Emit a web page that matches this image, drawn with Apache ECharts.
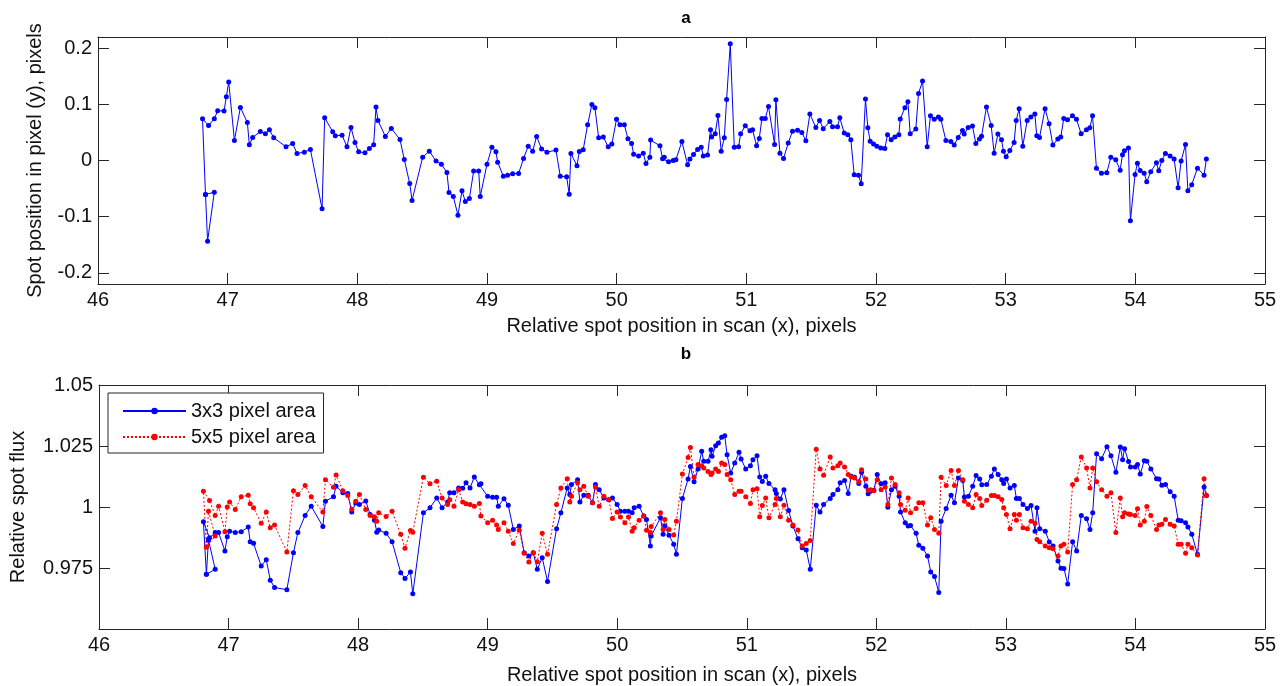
<!DOCTYPE html>
<html>
<head>
<meta charset="utf-8">
<script src="https://cdn.jsdelivr.net/npm/echarts@6/dist/echarts.min.js"></script>
<style>
html,body{margin:0;padding:0;background:#fff;}
#chart{width:1288px;height:686px;}
</style>
</head>
<body>
<div id="chart"></div>
<script>
// Scan positions (x, pixels), shared by both panels
const scanX = [
46.829,46.845,46.897,46.829,46.806,46.853,46.897,46.923,46.972,46.990,47.008,47.052,47.098,47.152,47.167,47.193,47.252,47.291,47.322,47.355,
47.450,47.501,47.535,47.591,47.638,47.728,47.748,47.810,47.830,47.882,47.920,47.951,47.982,48.010,48.059,48.093,48.126,48.144,48.159,48.216,
48.262,48.329,48.362,48.404,48.422,48.504,48.555,48.607,48.648,48.691,48.707,48.740,48.776,48.807,48.833,48.864,48.897,48.936,48.948,49.000,
49.038,49.069,49.082,49.126,49.159,49.198,49.244,49.282,49.318,49.352,49.383,49.421,49.462,49.532,49.565,49.614,49.634,49.647,49.694,49.712,
49.742,49.776,49.809,49.832,49.861,49.897,49.935,49.963,49.999,50.025,50.059,50.087,50.115,50.131,50.169,50.205,50.226,50.256,50.262,50.334,
50.354,50.367,50.400,50.436,50.457,50.503,50.547,50.565,50.593,50.624,50.652,50.668,50.701,50.724,50.732,50.760,50.781,50.806,50.830,50.848,
50.876,50.907,50.940,50.956,50.992,51.028,51.048,51.079,51.100,51.120,51.146,51.171,51.218,51.228,
51.259,51.287,51.323,51.356,51.395,51.428,51.459,51.490,51.536,51.565,51.593,51.644,51.665,51.703,51.721,51.755,51.783,51.806,51.832,51.865,
51.886,51.919,51.937,51.955,51.981,52.007,52.037,52.068,52.089,52.117,52.145,52.176,52.187,52.223,52.246,52.264,52.307,52.328,52.359,52.395,
52.420,52.449,52.482,52.500,52.539,52.577,52.603,52.634,52.667,52.680,52.711,52.744,52.770,52.798,52.814,52.852,52.888,52.911,52.940,52.968,
52.983,53.004,53.032,53.065,53.081,53.104,53.132,53.166,53.194,53.225,53.240,53.261,53.304,53.335,53.364,53.402,53.425,53.448,53.477,
53.515,53.546,53.582,53.623,53.649,53.670,53.700,53.739,53.780,53.811,53.849,53.883,53.901,53.916,53.947,53.962,53.998,54.016,54.037,54.068,
54.088,54.119,54.163,54.181,54.204,54.232,54.268,54.299,54.330,54.353,54.387,54.405,54.435,54.479,54.530,54.548
];

// Panel a: spot position in pixel (y)
const spotY = [
-0.0605,-0.1437,-0.0564,-0.0605,0.0743,0.0625,0.0743,0.0886,0.0880,0.1136,0.1397,0.0357,0.0945,0.0678,0.0280,0.0411,0.0518,0.0476,0.0547,0.0405,
0.0244,0.0304,0.0125,0.0149,0.0197,-0.0861,0.0761,0.0512,0.0440,0.0452,0.0244,0.0589,0.0322,0.0155,0.0137,0.0215,0.0280,0.0951,0.0714,0.0429,
0.0571,0.0375,0.0019,-0.0409,-0.0712,0.0060,0.0167,-0.0011,-0.0065,-0.0213,-0.0570,-0.0641,-0.0974,-0.0540,-0.0730,-0.0677,-0.0189,-0.0189,-0.0641,-0.0065,
0.0238,0.0155,-0.0029,-0.0279,-0.0261,-0.0237,-0.0231,0.0037,0.0256,0.0167,0.0429,0.0203,0.0149,0.0185,-0.0279,-0.0290,-0.0599,0.0125,-0.0094,0.0161,
0.0191,0.0636,0.0999,0.0940,0.0405,0.0417,0.0244,0.0292,0.0737,0.0636,0.0636,0.0387,0.0304,0.0113,0.0078,0.0131,-0.0053,0.0060,0.0363,0.0262,
0.0031,0.0060,-0.0023,0.0001,0.0013,0.0339,-0.0077,0.0025,0.0108,0.0197,0.0238,0.0078,0.0096,0.0547,0.0417,0.0476,0.0803,0.0167,0.0405,0.1088,
0.2080,0.0238,0.0244,0.0476,0.0619,0.0530,0.0547,0.0262,0.0393,0.0749,0.0749,0.0963,0.0286,0.1082,
0.0131,0.0037,0.0310,0.0523,0.0541,0.0500,0.0351,0.0827,0.0589,0.0714,0.0565,0.0696,0.0601,0.0601,0.0761,0.0488,0.0458,0.0369,-0.0255,-0.0261,
-0.0415,0.1094,0.0583,0.0345,0.0292,0.0256,0.0221,0.0215,0.0458,0.0369,0.0417,0.0458,0.0738,0.0940,0.1047,0.0476,0.0559,0.1195,0.1415,0.0244,
0.0797,0.0737,0.0773,0.0737,0.0357,0.0339,0.0274,0.0411,0.0535,0.0470,0.0589,0.0613,0.0304,0.0381,0.0434,0.0951,0.0625,0.0131,0.0470,0.0369,
0.0167,0.0066,0.0179,0.0322,0.0714,0.0922,0.0256,0.0714,0.0773,0.0827,0.0440,0.0411,0.0922,0.0654,0.0274,0.0381,0.0417,0.0749,0.0726,
0.0797,0.0737,0.0476,0.0547,0.0583,0.0797,-0.0136,-0.0225,-0.0219,0.0060,0.0013,-0.0172,0.0102,0.0173,0.0221,-0.1075,-0.0249,-0.0047,-0.0178,-0.0225,
-0.0379,-0.0201,-0.0041,-0.0184,0.0001,0.0125,0.0078,0.0025,-0.0486,-0.0011,0.0286,-0.0540,-0.0433,-0.0136,-0.0261,0.0025
];

// Panel b: relative spot flux, 3x3 pixel area
const flux3x3 = [
0.9724,0.9865,0.9745,0.9724,0.9940,0.9874,0.9895,0.9895,0.9820,0.9878,0.9901,0.9895,0.9899,0.9918,0.9858,0.9851,0.9758,0.9784,0.9700,0.9670,
0.9661,0.9813,0.9895,0.9965,1.0003,0.9920,1.0024,1.0042,1.0085,1.0058,1.0055,0.9979,1.0016,1.0010,1.0025,0.9969,0.9946,0.9897,0.9906,0.9892,
0.9858,0.9731,0.9707,0.9734,0.9644,0.9976,0.9997,1.0037,0.9997,1.0020,1.0058,1.0058,1.0078,1.0077,1.0099,1.0078,1.0123,1.0091,1.0095,1.0044,
1.0040,1.0040,1.0003,1.0034,1.0007,0.9908,0.9922,0.9813,0.9799,0.9813,0.9745,0.9792,0.9695,0.9911,0.9976,1.0078,1.0051,1.0092,1.0112,1.0021,
1.0048,1.0048,1.0017,1.0092,1.0071,1.0037,1.0030,1.0037,1.0010,0.9983,0.9983,0.9983,0.9976,0.9997,1.0003,0.9963,0.9949,0.9840,0.9881,0.9956,
0.9888,0.9922,0.9884,0.9847,0.9806,1.0035,1.0115,1.0166,1.0103,1.0156,1.0228,1.0187,1.0187,1.0235,1.0208,1.0251,1.0262,1.0286,1.0292,1.0214,
1.0139,1.0180,1.0224,1.0197,1.0156,1.0169,1.0194,1.0210,1.0123,1.0105,1.0126,1.0096,1.0071,1.0055,
1.0033,1.0071,0.9986,0.9922,0.9870,0.9833,0.9824,0.9745,1.0007,0.9980,1.0010,1.0035,1.0051,1.0071,1.0099,1.0109,1.0055,1.0126,1.0122,1.0096,
1.0142,1.0085,1.0054,1.0065,1.0069,1.0133,1.0095,1.0099,0.9999,1.0071,1.0085,1.0044,0.9980,0.9935,0.9922,0.9924,0.9892,0.9843,0.9831,0.9799,
0.9734,0.9715,0.9650,0.9942,0.9994,1.0048,1.0017,1.0119,1.0109,1.0041,1.0044,1.0085,1.0129,1.0115,1.0091,1.0092,1.0126,1.0156,1.0133,1.0112,
1.0096,1.0115,1.0078,1.0088,1.0035,1.0035,1.0010,0.9994,1.0006,0.9901,0.9997,0.9911,0.9901,0.9857,0.9840,0.9779,0.9749,0.9748,0.9684,
0.9858,0.9820,0.9965,0.9952,0.9908,0.9976,1.0218,1.0198,1.0247,1.0210,1.0142,1.0246,1.0194,1.0239,1.0186,1.0164,1.0164,1.0174,1.0135,1.0190,
1.0187,1.0156,1.0116,1.0115,1.0089,1.0092,1.0062,1.0044,0.9946,0.9944,0.9935,0.9918,0.9888,0.9806,1.0082,1.0047
];

// Panel b: relative spot flux, 5x5 pixel area
const flux5x5 = [
0.9836,0.9983,0.9881,0.9836,1.0065,1.0027,0.9965,1.0003,0.9899,1.0000,1.0020,0.9990,1.0042,1.0048,1.0013,0.9997,0.9933,0.9980,0.9915,0.9926,
0.9816,1.0067,1.0051,1.0088,1.0042,0.9979,1.0112,1.0081,1.0131,1.0067,1.0047,0.9991,1.0024,1.0051,0.9990,0.9965,0.9960,0.9942,0.9976,0.9961,
0.9983,0.9888,0.9831,0.9904,0.9897,1.0122,1.0095,1.0106,1.0037,1.0010,1.0030,1.0003,1.0071,1.0021,1.0013,1.0010,1.0003,1.0014,0.9963,0.9935,
0.9946,0.9926,0.9908,0.9935,0.9901,0.9850,0.9905,0.9810,0.9775,0.9813,0.9776,0.9892,0.9806,1.0010,1.0078,1.0116,1.0021,1.0044,1.0099,1.0071,
1.0085,1.0044,1.0017,1.0082,1.0003,1.0044,1.0030,0.9953,0.9979,0.9959,0.9935,0.9959,0.9901,0.9915,0.9946,0.9963,0.9905,0.9895,0.9920,0.9976,
0.9908,0.9949,0.9908,0.9885,0.9942,1.0135,1.0203,1.0244,1.0122,1.0174,1.0169,1.0160,1.0146,1.0133,1.0139,1.0156,1.0146,1.0180,1.0174,1.0133,
1.0112,1.0051,1.0065,1.0065,1.0042,1.0014,1.0071,1.0075,0.9960,1.0006,1.0037,0.9956,1.0010,1.0035,
0.9960,1.0007,0.9946,0.9926,0.9906,0.9840,0.9850,0.9863,1.0237,1.0156,1.0130,1.0205,1.0160,1.0169,1.0180,1.0164,1.0133,1.0123,1.0119,1.0105,
1.0153,1.0115,1.0069,1.0071,1.0067,1.0112,1.0071,1.0082,1.0010,1.0119,1.0092,1.0058,1.0010,0.9987,1.0037,0.9976,0.9994,1.0017,1.0017,0.9926,
0.9956,0.9908,0.9892,1.0122,1.0088,1.0150,1.0088,1.0150,1.0112,1.0024,1.0010,0.9997,1.0051,1.0035,1.0006,1.0028,1.0047,1.0047,1.0042,1.0031,
0.9997,0.9969,0.9911,0.9969,0.9946,0.9969,0.9915,0.9911,0.9942,0.9933,0.9867,0.9858,0.9840,0.9833,0.9829,0.9799,0.9840,0.9847,0.9816,
1.0092,1.0112,1.0205,1.0160,1.0078,1.0160,1.0103,1.0071,1.0044,1.0058,0.9895,1.0037,0.9960,0.9976,0.9971,0.9969,0.9965,0.9993,0.9926,0.9942,
1.0002,0.9965,0.9908,0.9926,0.9929,0.9949,0.9929,0.9922,0.9847,0.9847,0.9810,0.9847,0.9833,0.9803,1.0116,1.0047
];

const xTicks = [46,47,48,49,50,51,52,53,54,55];
const yTicksA = [-0.2,-0.1,0,0.1,0.2];
const yTicksB = [0.975,1,1.025,1.05];
const seriesNames = ['3x3 pixel area','5x5 pixel area'];
const xLabel = 'Relative spot position in scan (x), pixels';
const yLabelA = 'Spot position in pixel (y), pixels';
const yLabelB = 'Relative spot flux';

const FONT = '"Liberation Sans", Arial, sans-serif';
const FS = 20;
const AX = '#262626';

function xAxisMain(gi, nameGap){
  return {
    gridIndex: gi, type: 'value', min: 46, max: 55, interval: 1, position: 'bottom',
    axisLine: {show: true, onZero: false, lineStyle: {color: AX, width: 1}},
    axisTick: {show: true, inside: true, length: 11, lineStyle: {color: AX}},
    axisLabel: {fontSize: FS, fontFamily: FONT, color: '#111', margin: 6,
      formatter: v => xTicks.includes(v) ? String(v) : ''},
    splitLine: {show: false},
    name: xLabel, nameLocation: 'middle', nameGap: nameGap,
    nameTextStyle: {fontSize: FS, fontFamily: FONT, color: '#111'}
  };
}
function xAxisMirror(gi){
  return {
    gridIndex: gi, type: 'value', min: 46, max: 55, interval: 1, position: 'top',
    axisLine: {show: true, onZero: false, lineStyle: {color: AX, width: 1}},
    axisTick: {show: true, inside: true, length: 11, lineStyle: {color: AX}},
    axisLabel: {show: false}, splitLine: {show: false}
  };
}
function yAxisMirror(gi, opts){
  return Object.assign({
    gridIndex: gi, type: 'value', position: 'right',
    axisLine: {show: true, onZero: false, lineStyle: {color: AX, width: 1}},
    axisLabel: {show: false}, splitLine: {show: false}
  }, opts);
}

const fmtB = v => {
  if (Math.abs(v - 0.95) < 1e-9) return '';
  return String(parseFloat(v.toFixed(3)));
};

const option = {
  animation: false,
  backgroundColor: '#fff',
  textStyle: {fontFamily: FONT},
  title: [
    {text: 'a', left: 681, top: 5, textAlign: 'center',
     textStyle: {fontSize: 17, fontWeight: 'bold', fontFamily: FONT, color: '#000'}},
    {text: 'b', left: 681, top: 341, textAlign: 'center',
     textStyle: {fontSize: 17, fontWeight: 'bold', fontFamily: FONT, color: '#000'}}
  ],
  grid: [
    {left: 98, right: 23, top: 37, height: 247},
    {left: 98, right: 23, top: 385, height: 245}
  ],
  legend: {
    data: seriesNames,
    orient: 'vertical', left: 108, top: 393,
    padding: [8, 8, 6, 14],
    itemWidth: 63, itemHeight: 8, itemGap: 6,
    borderColor: AX, borderWidth: 1, backgroundColor: '#fff',
    textStyle: {fontSize: FS, fontFamily: FONT, color: '#111', lineHeight: 20}
  },
  xAxis: [xAxisMain(0, 32), xAxisMirror(0), xAxisMain(1, 36), xAxisMirror(1)],
  yAxis: [
    {gridIndex: 0, type: 'value', min: -0.22, max: 0.22, position: 'left',
     axisLine: {show: true, onZero: false, lineStyle: {color: AX, width: 1}},
     axisTick: {show: true, inside: true, length: 11, customValues: yTicksA, lineStyle: {color: AX}},
     axisLabel: {fontSize: FS, fontFamily: FONT, color: '#111', margin: 6, customValues: yTicksA,
       formatter: v => v === 0 ? '0' : v.toFixed(1)},
     splitLine: {show: false},
     name: yLabelA, nameLocation: 'middle', nameGap: 53,
     nameTextStyle: {fontSize: FS, fontFamily: FONT, color: '#111'}},
    yAxisMirror(0, {min: -0.22, max: 0.22,
      axisTick: {show: true, inside: true, length: 11, customValues: yTicksA, lineStyle: {color: AX}}}),
    {gridIndex: 1, type: 'value', min: 0.95, max: 1.05, interval: 0.025, position: 'left',
     axisLine: {show: true, onZero: false, lineStyle: {color: AX, width: 1}},
     axisTick: {show: true, inside: true, length: 11, lineStyle: {color: AX}},
     axisLabel: {fontSize: FS, fontFamily: FONT, color: '#111', margin: 6, formatter: fmtB},
     splitLine: {show: false},
     name: yLabelB, nameLocation: 'middle', nameGap: 71,
     nameTextStyle: {fontSize: FS, fontFamily: FONT, color: '#111'}},
    yAxisMirror(1, {min: 0.95, max: 1.05, interval: 0.025,
      axisTick: {show: true, inside: true, length: 11, lineStyle: {color: AX}}})
  ],
  series: [
    {type: 'line', name: 'spotY', xAxisIndex: 0, yAxisIndex: 0,
     data: scanX.map((x, i) => [x, spotY[i]]),
     symbol: 'circle', symbolSize: 5, showSymbol: true,
     itemStyle: {color: '#0000ff'}, lineStyle: {color: '#0000ff', width: 1}},
    {type: 'line', name: seriesNames[0], xAxisIndex: 2, yAxisIndex: 2,
     data: scanX.map((x, i) => [x, flux3x3[i]]),
     symbol: 'circle', symbolSize: 5, showSymbol: true,
     itemStyle: {color: '#0000ff'}, lineStyle: {color: '#0000ff', width: 1}},
    {type: 'line', name: seriesNames[1], xAxisIndex: 2, yAxisIndex: 2,
     data: scanX.map((x, i) => [x, flux5x5[i]]),
     symbol: 'circle', symbolSize: 5, showSymbol: true,
     itemStyle: {color: '#ff0000'}, lineStyle: {color: '#ff0000', width: 1, type: [2, 2]}}
  ]
};

const chart = echarts.init(document.getElementById('chart'), null, {renderer: 'canvas'});
chart.setOption(option);
</script>
</body>
</html>
